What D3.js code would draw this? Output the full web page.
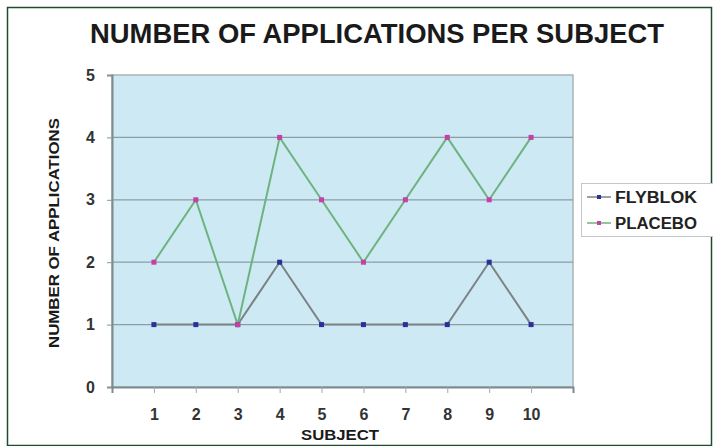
<!DOCTYPE html>
<html><head><meta charset="utf-8">
<script src="https://cdn.jsdelivr.net/npm/d3@7"></script>
<style>body{margin:0;background:#fff}svg{display:block}</style>
</head><body>
<script>
const subjects = [1,2,3,4,5,6,7,8,9,10];
const flyblok = [1,1,1,2,1,1,1,1,2,1];
const placebo = [2,3,1,4,3,2,3,4,3,4];
const yTicks = [0,1,2,3,4,5];
const seriesNames = ["FLYBLOK","PLACEBO"];

const W = 713, H = 446;
const svg = d3.select("body").append("svg").attr("width", W).attr("height", H);
const font = "'Liberation Sans', Arial, Helvetica, sans-serif";

// outer border
svg.append("rect").attr("x",7.5).attr("y",7.5).attr("width",W-9).attr("height",H-8)
  .attr("fill","#fff").attr("stroke","#1f4a30").attr("stroke-width",1.5);

// title
svg.append("text").attr("x",377).attr("y",43).attr("text-anchor","middle")
  .attr("font-family",font).attr("font-weight","bold").attr("font-size",27)
  .attr("textLength",574).attr("lengthAdjust","spacingAndGlyphs")
  .attr("fill","#1a1a1a").text("NUMBER OF APPLICATIONS PER SUBJECT");

const x0 = 112, x1 = 573, yTop = 75, yBot = 387;
const x = d3.scaleLinear().domain([0,11]).range([x0,x1]);
const y = d3.scaleLinear().domain([0,5]).range([yBot,yTop]);

// plot bg
svg.append("rect").attr("x",x0).attr("y",yTop).attr("width",x1-x0).attr("height",yBot-yTop)
  .attr("fill","#cde9f3").attr("stroke","#a9b4b8").attr("stroke-width",1.5);

// gridlines
svg.append("g").selectAll("line").data(yTicks.filter(d=>d>0&&d<5)).join("line")
  .attr("x1",x0).attr("x2",x1).attr("y1",d=>y(d)).attr("y2",d=>y(d))
  .attr("stroke","#8a9ea4").attr("stroke-width",1.2);

// y axis
const yAxis = svg.append("g").attr("transform",`translate(${x0},0)`)
  .call(d3.axisLeft(y).tickValues(yTicks).tickSize(5).tickPadding(12).tickFormat(d3.format("d")));
yAxis.select(".domain").attr("stroke","#7d8a8e").attr("stroke-width",2);
yAxis.selectAll(".tick line").attr("stroke","#8a9599");
yAxis.selectAll("text").attr("font-family",font).attr("font-weight","bold").attr("font-size",16).attr("fill","#333");

// x axis
const xAxis = svg.append("g").attr("transform",`translate(0,${yBot})`)
  .call(d3.axisBottom(x).tickValues(subjects).tickSize(6).tickPadding(16).tickFormat(d3.format("d")));
xAxis.select(".domain").attr("stroke","#7d8a8e").attr("stroke-width",2);
xAxis.selectAll(".tick line").attr("stroke","#a0aaad");
xAxis.selectAll("text").attr("font-family",font).attr("font-weight","bold").attr("font-size",16).attr("fill","#333");

// axis titles
svg.append("text").attr("x",340).attr("y",440).attr("text-anchor","middle")
  .attr("font-family",font).attr("font-weight","bold").attr("font-size",14)
  .attr("textLength",78).attr("lengthAdjust","spacingAndGlyphs").attr("fill","#1a1a1a").text("SUBJECT");
svg.append("text").attr("transform","translate(59,233) rotate(-90)").attr("text-anchor","middle")
  .attr("font-family",font).attr("font-weight","bold").attr("font-size",15.5)
  .attr("textLength",230).attr("lengthAdjust","spacingAndGlyphs").attr("fill","#1a1a1a").text("NUMBER OF APPLICATIONS");

const line = d3.line().x((d,i)=>x(subjects[i])).y(d=>y(d));
const series = [
  {name:seriesNames[0], values:flyblok, line:"#7c8285", mark:"#2b2f9c"},
  {name:seriesNames[1], values:placebo, line:"#6db37f", mark:"#c63fa6"}
];
series.forEach(s=>{
  svg.append("path").datum(s.values).attr("d",line).attr("fill","none")
    .attr("stroke",s.line).attr("stroke-width",2);
});
series.forEach(s=>{
  svg.append("g").selectAll("rect").data(s.values).join("rect")
    .attr("x",(d,i)=>x(subjects[i])-2.5).attr("y",d=>y(d)-2.5).attr("width",5).attr("height",5)
    .attr("fill",s.mark);
});

// legend
const lg = svg.append("g");
lg.append("rect").attr("x",581.5).attr("y",183.5).attr("width",140).attr("height",53)
  .attr("fill","#fff").attr("stroke","#c4c8ca").attr("stroke-width",1);
series.forEach((s,i)=>{
  const yy = 197 + i*26;
  lg.append("line").attr("x1",587).attr("x2",611).attr("y1",yy).attr("y2",yy).attr("stroke",s.line).attr("stroke-width",1.5);
  lg.append("rect").attr("x",597).attr("y",yy-2).attr("width",4).attr("height",4).attr("fill",s.mark);
  lg.append("text").attr("x",615).attr("y",yy+6).attr("font-family",font).attr("font-weight","bold")
    .attr("font-size",16).attr("fill","#222").attr("textLength",82).attr("lengthAdjust","spacingAndGlyphs").text(s.name);
});
</script>
</body></html>
